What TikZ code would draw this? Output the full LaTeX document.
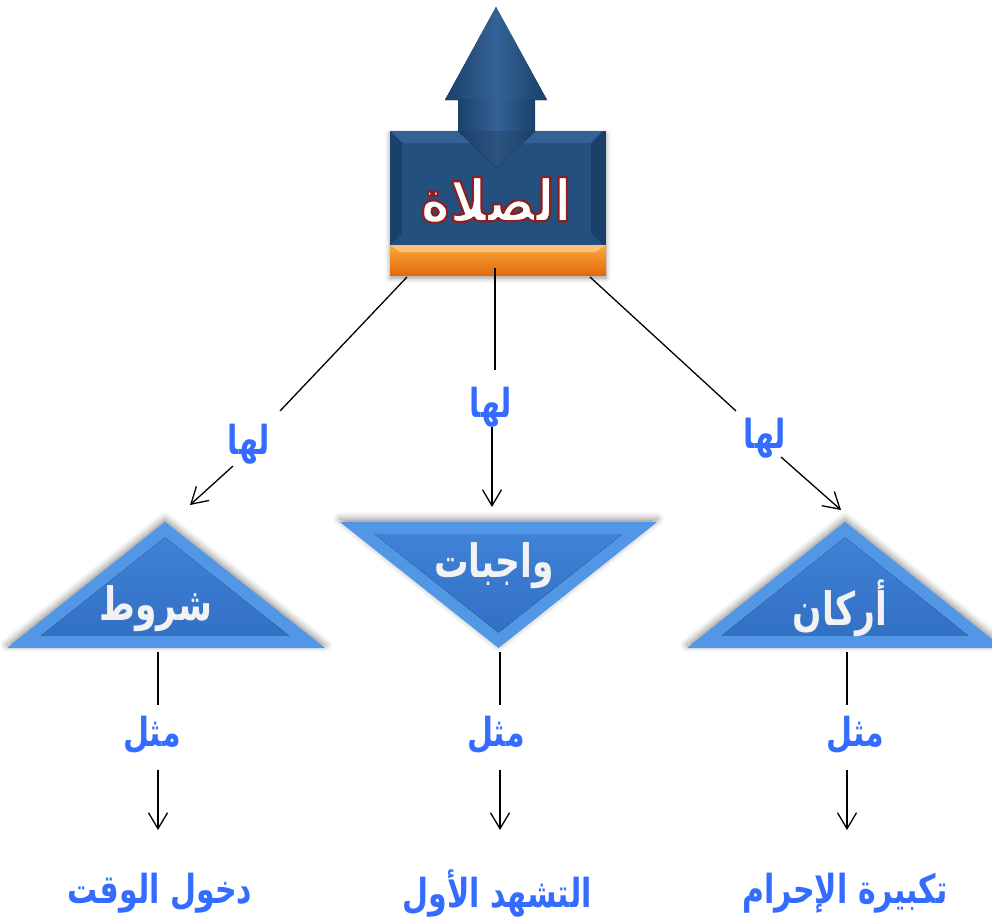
\documentclass[tikz,border=0pt]{standalone}
\usepackage{fontspec}
\usetikzlibrary{arrows.meta,shadows.blur,calc}
\newfontfamily\arfont[Script=Arabic,FakeStretch=0.75]{DejaVu Sans}
\newfontfamily\arfontw[Script=Arabic,FakeStretch=0.85]{DejaVu Sans}
\TeXXeTstate=1
\definecolor{lblblue}{RGB}{52,108,255}
\definecolor{boxblue}{RGB}{36,80,128}
\definecolor{boxdark}{RGB}{27,64,106}
\definecolor{boxlight}{RGB}{52,98,150}
\definecolor{triedge}{RGB}{82,150,230}
\definecolor{tritop}{RGB}{64,130,214}
\definecolor{tribot}{RGB}{50,112,196}
\definecolor{orangetop}{RGB}{250,168,62}
\definecolor{orangebot}{RGB}{226,106,12}
\newcommand\artext[1]{\beginR #1\endR}
\newcommand\outtext[1]{%
  \special{pdf:literal direct 2 Tr 2.2 w 1 j 0.55 0.12 0.12 RG}%
  \beginR #1\endR
  \special{pdf:literal direct 0 Tr}}
\tikzset{
  lbl/.style={text=lblblue, font=\arfont\bfseries\fontsize{40}{46}\selectfont, inner sep=2pt},
  tritext/.style={text=white!95!black, font=\arfont\bfseries\fontsize{46}{52}\selectfont, inner sep=2pt},
  salatstyle/.style={text=white, font=\arfontw\bfseries\fontsize{58}{64}\selectfont, inner sep=2pt},
  conn/.style={line width=1.3pt, draw=black},
  arr/.style={conn, -{Straight Barb[length=16pt,width=19pt]}},
  trishadow/.style={blur shadow={shadow xshift=0pt, shadow yshift=3pt, shadow blur radius=7pt, shadow opacity=45}},
  triout/.style={fill=triedge},
  triin/.style={top color=tritop, bottom color=tribot},
}
\begin{document}
\begin{tikzpicture}[x=1pt,y=-1pt]
\useasboundingbox (0,0) rectangle (992,921);
% ---------- top block ----------
\fill[boxdark, blur shadow={shadow xshift=0pt, shadow yshift=-3pt, shadow blur radius=5pt, shadow opacity=40}]
  (390,131) rectangle (606,275);
\fill[left color=boxdark, right color=boxdark, middle color=boxlight]
  (445,100) -- (496,7) -- (547,100) -- cycle;
\fill[left color=boxdark, right color=boxdark, middle color=boxlight]
  (458,99) rectangle (535,132);
\fill[boxblue] (390,131) rectangle (603,245);
\fill[boxlight] (390,131) -- (603,131) -- (591,143) -- (402,143) -- cycle;
\fill[boxdark] (390,131) -- (402,143) -- (402,233) -- (390,245) -- cycle;
\fill[boxdark] (603,131) -- (591,143) -- (591,233) -- (603,245) -- cycle;
\fill[left color=boxdark, right color=boxdark, middle color=boxlight!85!black]
  (458,131) -- (535,131) -- (497,168) -- cycle;
\fill[top color=orangetop, bottom color=orangebot] (390,245) rectangle (606,275);
\fill[orangetop!70!white] (390,245) -- (606,245) -- (596,252) -- (400,252) -- cycle;
\node[salatstyle] (salat) at (496,200) {\outtext{الصلاة}};
\coordinate (bL) at (407,277);
\coordinate (bM) at (495,268);
\coordinate (bR) at (590,277);
% ---------- triangles ----------
\fill[triout, trishadow] (165,522) -- (7,648) -- (325,648) -- cycle;
\begin{scope}[shift={(165,592.6)}, scale=0.78]
  \fill[triin] (0,-70.6) -- (-159,55.4) -- (159,55.4) -- cycle;
\end{scope}
\fill[triout, trishadow] (340,522) -- (657,522) -- (498.5,648) -- cycle;
\begin{scope}[shift={(498.5,577.4)}, scale=0.78]
  \fill[triin] (-158.5,-55.4) -- (158.5,-55.4) -- (0,70.6) -- cycle;
\end{scope}
\fill[triout, trishadow] (845,522) -- (687,648) -- (1003,648) -- cycle;
\begin{scope}[shift={(845,592.6)}, scale=0.78]
  \fill[triin] (0,-70.6) -- (-158,55.4) -- (158,55.4) -- cycle;
\end{scope}
\node[tritext] (shurut) at (156,609) {\artext{شروط}};
\node[tritext] (wajibat) at (494,566) {\artext{واجبات}};
\node[tritext] (arkan) at (840,608) {\artext{أركان}};
\coordinate (t1a) at (190,505);
\coordinate (t2a) at (492,507);
\coordinate (t3a) at (841,510);
\coordinate (t1b) at (158,652);
\coordinate (t2b) at (500,652);
\coordinate (t3b) at (847,652);
% ---------- labels ----------
\node[lbl] (lha1) at (249,444) {\artext{لها}};
\node[lbl] (lha2) at (491,407) {\artext{لها}};
\node[lbl] (lha3) at (765,438) {\artext{لها}};
\node[lbl] (mithl1) at (152,735) {\artext{مثل}};
\node[lbl] (mithl2) at (496,735) {\artext{مثل}};
\node[lbl] (mithl3) at (855,735) {\artext{مثل}};
\node[lbl] (ex1) at (160,893) {\artext{دخول الوقت}};
\node[lbl] (ex2) at (497,893) {\artext{التشهد الأول}};
\node[lbl] (ex3) at (845,893) {\artext{تكبيرة الإحرام}};
% ---------- connector ends tied to the label nodes ----------
\coordinate (l1in) at ([shift={(31,-33)}]lha1.center);
\coordinate (l1out) at ([shift={(-16,22)}]lha1.center);
\coordinate (l2in) at ([shift={(0,-37)}]lha2.center);
\coordinate (l2out) at ([shift={(0,20)}]lha2.center);
\coordinate (l3in) at ([shift={(-29,-27)}]lha3.center);
\coordinate (l3out) at ([shift={(16,19)}]lha3.center);
\foreach \i in {1,2,3}{
  \coordinate (mtop\i) at ([shift={(0,-30)}]mithl\i.center);
  \coordinate (mbot\i) at ([shift={(0,35)}]mithl\i.center);
  \coordinate (etop\i) at ([shift={(0,-63)}]ex\i.center);
}
% ---------- connectors ----------
\draw[conn] (bL) -- (l1in);
\draw[arr] (l1out) -- (t1a);
\draw[conn] (bM) -- (bM |- l2in);
\draw[arr] (t2a |- l2out) -- (t2a);
\draw[conn] (bR) -- (l3in);
\draw[arr] (l3out) -- (t3a);
\draw[conn] (t1b) -- (t1b |- mtop1);
\draw[arr] (t1b |- mbot1) -- (t1b |- etop1);
\draw[conn] (t2b) -- (t2b |- mtop2);
\draw[arr] (t2b |- mbot2) -- (t2b |- etop2);
\draw[conn] (t3b) -- (t3b |- mtop3);
\draw[arr] (t3b |- mbot3) -- (t3b |- etop3);
\end{tikzpicture}
\end{document}
